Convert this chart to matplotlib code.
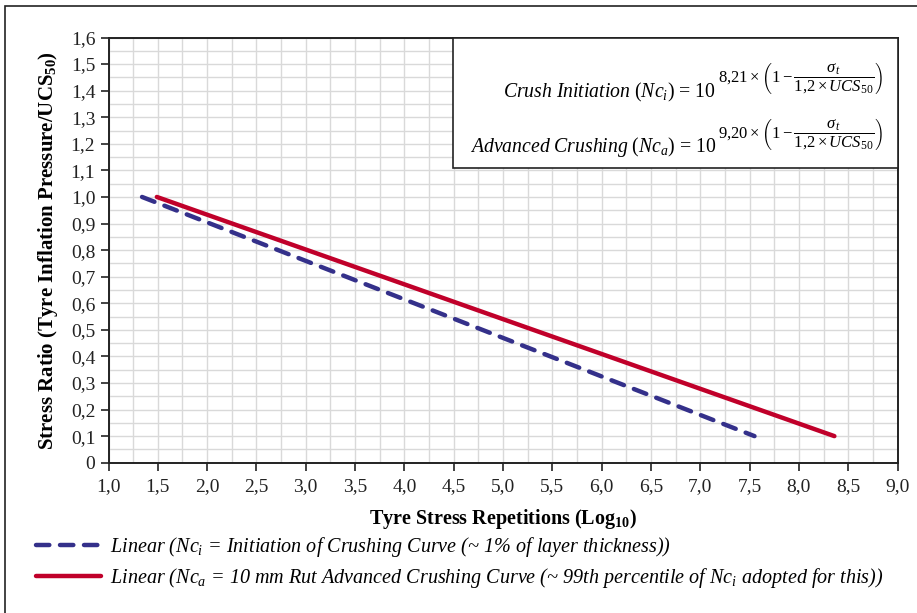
import numpy as np
import matplotlib
matplotlib.use('Agg')
import matplotlib.pyplot as plt
from matplotlib.ticker import MultipleLocator, FuncFormatter
from matplotlib.patches import Rectangle

# dados (inicio e fim de cada linha de tendência)
reps_inicio = [1.34, 7.55]
ratio_inicio = [1.0, 0.1]
reps_avancado = [1.49, 8.36]
ratio_avancado = [1.0, 0.1]

label_inicio = r'Linear ($\mathit{Nc_i}$ = Initiation of Crushing Curve (~ 1% of layer thickness))'
label_avancado = r'Linear ($\mathit{Nc_a}$ = 10 mm Rut Advanced Crushing Curve (~ 99th percentile of $\mathit{Nc_i}$ adopted for this))'

plt.rcParams['font.family'] = ['Liberation Serif', 'DejaVu Serif']
plt.rcParams['mathtext.fontset'] = 'custom'
plt.rcParams['mathtext.rm'] = 'Liberation Serif'
plt.rcParams['mathtext.it'] = 'Liberation Serif:italic'
plt.rcParams['mathtext.bf'] = 'Liberation Serif:bold'

fig = plt.figure(figsize=(9.17, 6.13), dpi=100)
ax = fig.add_axes([108.5 / 917, 1 - 462.7 / 613, (897.5 - 108.5) / 917, (462.7 - 37.5) / 613])

# moldura externa
fig.patches.append(Rectangle((5 / 917, -0.1), 1.2, 1 - 6 / 613 + 0.1, transform=fig.transFigure,
                             fill=False, edgecolor='#222222', linewidth=1.2))

ax.plot(reps_inicio, ratio_inicio, color='#34308a', linewidth=3.2, dashes=(3.0, 2.4),
        dash_capstyle='round', label=label_inicio)
ax.plot(reps_avancado, ratio_avancado, color='#c0002a', linewidth=3.2,
        solid_capstyle='round', label=label_avancado)

ax.set_xlim(1.0, 9.0)
ax.set_ylim(0, 1.6)
ax.xaxis.set_major_locator(MultipleLocator(0.5))
ax.xaxis.set_minor_locator(MultipleLocator(0.25))
ax.yaxis.set_major_locator(MultipleLocator(0.1))
ax.yaxis.set_minor_locator(MultipleLocator(0.05))
ax.xaxis.set_major_formatter(FuncFormatter(lambda v, p: f'{v:.1f}'.replace('.', ',')))
ax.yaxis.set_major_formatter(FuncFormatter(lambda v, p: '0' if abs(v) < 1e-9 else f'{v:.1f}'.replace('.', ',')))
ax.grid(which='both', color='#d9d9d9', linewidth=1.0)
ax.set_axisbelow(True)
ax.tick_params(which='major', direction='out', length=6, width=1.2, labelsize=14, colors='#222222')
ax.tick_params(axis='x', pad=5)
ax.tick_params(which='minor', length=0)
for s in ax.spines.values():
    s.set_linewidth(1.4)
    s.set_color('#222222')

ax.set_xlabel(r'Tyre Stress Repetitions (Log$_{\mathbf{10}}$)', fontsize=14.5, fontweight='bold', labelpad=9)
ax.set_ylabel(r'Stress Ratio (Tyre Inflation Pressure/UCS$_{\mathbf{50}}$)', fontsize=15, fontweight='bold', labelpad=8)

# caixa das equações
box = Rectangle((453 / 917, 1 - 168 / 613), (897.5 - 453) / 917, (168 - 37.5) / 613,
                transform=fig.transFigure, facecolor='white', edgecolor='#222222', linewidth=1.2, zorder=5)
fig.patches.append(box)
fig.text(716 / 917, 1 - 97 / 613, r'$\mathit{Crush\ Initiation\ (Nc_i)}$ = 10', ha='right', va='baseline',
         fontsize=14.2, zorder=6)
fig.text(716 / 917, 1 - 152 / 613, r'$\mathit{Advanced\ Crushing\ (Nc_a)}$ = 10', ha='right', va='baseline',
         fontsize=14.2, zorder=6)
expo = r'$\mathit{%s} \times \left(\mathit{1} - \dfrac{\sigma_t}{\mathit{1{,}2} \times UCS_{\mathit{50}}}\right)$'
fig.text(718 / 917, 1 - 78 / 613, expo % '8{,}21', ha='left', va='center', fontsize=12, zorder=6)
fig.text(718 / 917, 1 - 134 / 613, expo % '9{,}20', ha='left', va='center', fontsize=12, zorder=6)

leg = fig.legend(loc='upper left', bbox_to_anchor=(28 / 917, 1 - 527 / 613), frameon=False,
                 handlelength=3.2, handletextpad=0.45, labelspacing=0.35, borderaxespad=0,
                 prop={'style': 'italic', 'size': 14.5})

fig.savefig('out.png', dpi=100)
